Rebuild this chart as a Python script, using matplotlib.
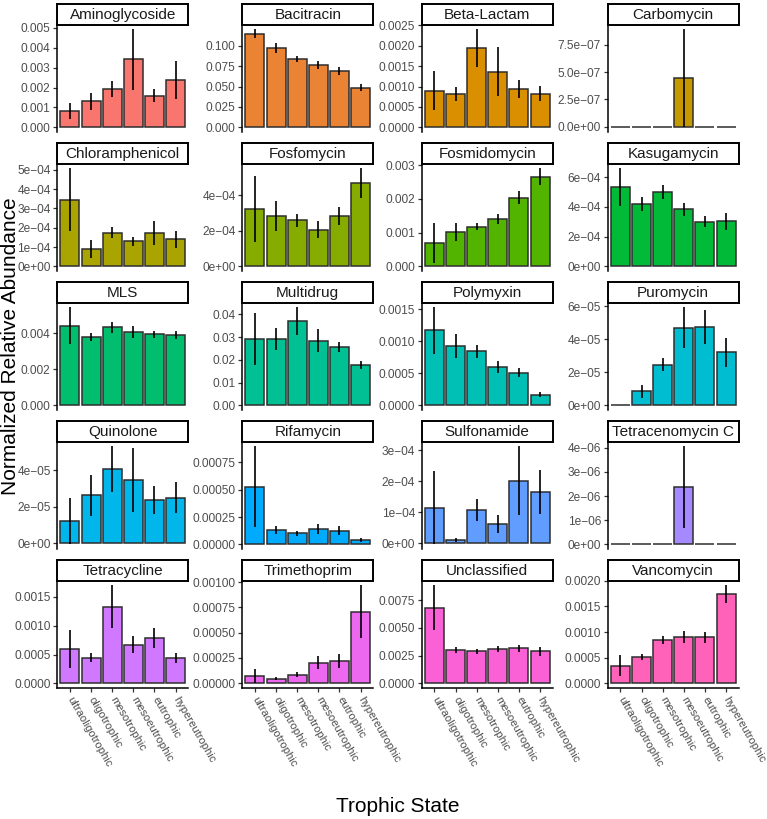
import numpy as np
import matplotlib
matplotlib.use("Agg")
import matplotlib.pyplot as plt

plt.rcParams['font.family'] = ['Liberation Sans', 'DejaVu Sans']

states = ["ultraoligotrophic", "oligotrophic", "mesotrophic",
          "mesoeutrophic", "eutrophic", "hypereutrophic"]

# mean and standard error per trophic state
aminoglycoside = [0.00080, 0.00131, 0.00193, 0.00341, 0.00160, 0.00238]
aminoglycoside_se = [0.00040, 0.00044, 0.00040, 0.00151, 0.00033, 0.00096]
bacitracin = [0.1148, 0.0976, 0.0840, 0.0760, 0.0692, 0.0484]
bacitracin_se = [0.0052, 0.0060, 0.0040, 0.0048, 0.0048, 0.0044]
beta_lactam = [0.00090, 0.00081, 0.00194, 0.00136, 0.00094, 0.00083]
beta_lactam_se = [0.00048, 0.00017, 0.00046, 0.00060, 0.00022, 0.00019]
carbomycin = [0, 0, 0, 4.42e-7, 0, 0]
carbomycin_se = [0, 0, 0, 4.47e-7, 0, 0]
chloramphenicol = [3.45e-4, 0.90e-4, 1.75e-4, 1.30e-4, 1.73e-4, 1.40e-4]
chloramphenicol_se = [1.62e-4, 0.45e-4, 0.30e-4, 0.22e-4, 0.60e-4, 0.45e-4]
fosfomycin = [3.23e-4, 2.83e-4, 2.59e-4, 2.07e-4, 2.84e-4, 4.70e-4]
fosfomycin_se = [1.87e-4, 0.86e-4, 0.36e-4, 0.46e-4, 0.52e-4, 0.82e-4]
fosmidomycin = [0.00070, 0.00102, 0.00118, 0.00139, 0.00203, 0.00266]
fosmidomycin_se = [0.00059, 0.00026, 0.00011, 0.00015, 0.00019, 0.00024]
kasugamycin = [5.34e-4, 4.21e-4, 5.00e-4, 3.84e-4, 3.01e-4, 3.03e-4]
kasugamycin_se = [1.25e-4, 0.46e-4, 0.45e-4, 0.43e-4, 0.39e-4, 0.59e-4]
mls = [0.00444, 0.00380, 0.00435, 0.00409, 0.00395, 0.00393]
mls_se = [0.00101, 0.00024, 0.00030, 0.00035, 0.00020, 0.00022]
multidrug = [0.0292, 0.0292, 0.0371, 0.0285, 0.0256, 0.0177]
multidrug_se = [0.0114, 0.0049, 0.0060, 0.0049, 0.0023, 0.0017]
polymyxin = [0.00117, 0.00093, 0.000845, 0.00060, 0.00051, 0.000165]
polymyxin_se = [0.00036, 0.00019, 0.00010, 0.00009, 0.00007, 0.00004]
puromycin = [0, 0.85e-5, 2.46e-5, 4.68e-5, 4.74e-5, 3.20e-5]
puromycin_se = [0, 0.39e-5, 0.40e-5, 1.24e-5, 1.02e-5, 0.90e-5]
quinolone = [1.20e-5, 2.62e-5, 4.05e-5, 3.47e-5, 2.37e-5, 2.50e-5]
quinolone_se = [1.26e-5, 1.15e-5, 1.26e-5, 1.77e-5, 0.78e-5, 0.86e-5]
rifamycin = [5.26e-4, 1.31e-4, 1.02e-4, 1.43e-4, 1.25e-4, 0.39e-4]
rifamycin_se = [3.70e-4, 0.33e-4, 0.23e-4, 0.48e-4, 0.42e-4, 0.21e-4]
sulfonamide = [1.14e-4, 0.10e-4, 1.06e-4, 0.62e-4, 2.02e-4, 1.65e-4]
sulfonamide_se = [1.18e-4, 0.06e-4, 0.36e-4, 0.29e-4, 1.10e-4, 0.71e-4]
tetracenomycin = [0, 0, 0, 2.36e-6, 0, 0]
tetracenomycin_se = [0, 0, 0, 1.69e-6, 0, 0]
tetracycline = [0.000596, 0.000444, 0.00133, 0.000669, 0.000787, 0.000444]
tetracycline_se = [0.00033, 0.00008, 0.00037, 0.00015, 0.00018, 0.00009]
trimethoprim = [0.000067, 0.000042, 0.000083, 0.000202, 0.000221, 0.000708]
trimethoprim_se = [0.00007, 0.000016, 0.000022, 0.000064, 0.00007, 0.00026]
unclassified = [0.00683, 0.00302, 0.00291, 0.00308, 0.00317, 0.00291]
unclassified_se = [0.0020, 0.0003, 0.00023, 0.00026, 0.0003, 0.0004]
vancomycin = [0.000346, 0.000519, 0.00084, 0.000904, 0.000897, 0.00174]
vancomycin_se = [0.0002, 0.00006, 0.00008, 0.00012, 0.0001, 0.00017]

# y tick labels of each panel, as printed
ticks_amino = ["0.000", "0.001", "0.002", "0.003", "0.004", "0.005"]
ticks_baci = ["0.000", "0.025", "0.050", "0.075", "0.100"]
ticks_beta = ["0.0000", "0.0005", "0.0010", "0.0015", "0.0020", "0.0025"]
ticks_carbo = ["0.0e+00", "2.5e−07", "5.0e−07", "7.5e−07"]
ticks_chlor = ["0e+00", "1e−04", "2e−04", "3e−04", "4e−04", "5e−04"]
ticks_fosfo = ["0e+00", "2e−04", "4e−04"]
ticks_fosmi = ["0.000", "0.001", "0.002", "0.003"]
ticks_kasu = ["0e+00", "2e−04", "4e−04", "6e−04"]
ticks_mls = ["0.000", "0.002", "0.004"]
ticks_multi = ["0.00", "0.01", "0.02", "0.03", "0.04"]
ticks_poly = ["0.0000", "0.0005", "0.0010", "0.0015"]
ticks_puro = ["0e+00", "2e−05", "4e−05", "6e−05"]
ticks_quino = ["0e+00", "2e−05", "4e−05"]
ticks_rifa = ["0.00000", "0.00025", "0.00050", "0.00075"]
ticks_sulfo = ["0e+00", "1e−04", "2e−04", "3e−04"]
ticks_tetrac = ["0e+00", "1e−06", "2e−06", "3e−06", "4e−06"]
ticks_tetra = ["0.0000", "0.0005", "0.0010", "0.0015"]
ticks_trime = ["0.00000", "0.00025", "0.00050", "0.00075", "0.00100"]
ticks_uncl = ["0.0000", "0.0025", "0.0050", "0.0075"]
ticks_vanco = ["0.0000", "0.0005", "0.0010", "0.0015", "0.0020"]

panels = [
    ("Aminoglycoside", aminoglycoside, aminoglycoside_se, ticks_amino),
    ("Bacitracin", bacitracin, bacitracin_se, ticks_baci),
    ("Beta-Lactam", beta_lactam, beta_lactam_se, ticks_beta),
    ("Carbomycin", carbomycin, carbomycin_se, ticks_carbo),
    ("Chloramphenicol", chloramphenicol, chloramphenicol_se, ticks_chlor),
    ("Fosfomycin", fosfomycin, fosfomycin_se, ticks_fosfo),
    ("Fosmidomycin", fosmidomycin, fosmidomycin_se, ticks_fosmi),
    ("Kasugamycin", kasugamycin, kasugamycin_se, ticks_kasu),
    ("MLS", mls, mls_se, ticks_mls),
    ("Multidrug", multidrug, multidrug_se, ticks_multi),
    ("Polymyxin", polymyxin, polymyxin_se, ticks_poly),
    ("Puromycin", puromycin, puromycin_se, ticks_puro),
    ("Quinolone", quinolone, quinolone_se, ticks_quino),
    ("Rifamycin", rifamycin, rifamycin_se, ticks_rifa),
    ("Sulfonamide", sulfonamide, sulfonamide_se, ticks_sulfo),
    ("Tetracenomycin C", tetracenomycin, tetracenomycin_se, ticks_tetrac),
    ("Tetracycline", tetracycline, tetracycline_se, ticks_tetra),
    ("Trimethoprim", trimethoprim, trimethoprim_se, ticks_trime),
    ("Unclassified", unclassified, unclassified_se, ticks_uncl),
    ("Vancomycin", vancomycin, vancomycin_se, ticks_vanco),
]


def hcl_hex(h, c=100, l=65):
    """ggplot-style hcl colour -> rgb tuple"""
    hr = np.deg2rad(h)
    u, v = c * np.cos(hr), c * np.sin(hr)
    Xn, Yn, Zn = 95.047, 100.0, 108.883
    d = Xn + 15 * Yn + 3 * Zn
    un, vn = 4 * Xn / d, 9 * Yn / d
    Y = Yn * ((l + 16) / 116) ** 3
    up, vp = u / (13 * l) + un, v / (13 * l) + vn
    X = Y * 9 * up / (4 * vp)
    Z = Y * (12 - 3 * up - 20 * vp) / (4 * vp)
    X, Y, Z = X / 100, Y / 100, Z / 100
    rgb = [3.240479 * X - 1.537150 * Y - 0.498535 * Z,
           -0.969256 * X + 1.875992 * Y + 0.041556 * Z,
           0.055648 * X - 0.204043 * Y + 1.057311 * Z]
    out = []
    for ch in rgb:
        ch = 1.055 * ch ** (1 / 2.4) - 0.055 if ch > 0.0031308 else 12.92 * ch
        out.append(min(max(ch, 0), 1))
    return tuple(out)


n_levels = 21
hues = np.linspace(15, 375, n_levels + 1)[:-1]
colors = [hcl_hex(h) for h in hues]

W, H = 767, 819
fig = plt.figure(figsize=(W / 100, H / 100), dpi=100)

col_left = [57.3, 242.3, 421.7, 607.7]
pw = 131.0
x = np.arange(len(states))

for i, (name, vals, se, tlabels) in enumerate(panels):
    r, c = divmod(i, 4)
    strip_top = 4 + 139 * r
    ptop = strip_top + 20.5
    pbot = 132.3 + 139 * r
    ax = fig.add_axes([col_left[c] / W, 1 - pbot / H, pw / W, (pbot - ptop) / H])
    vals = np.array(vals)
    se = np.array(se)
    ax.bar(x, vals, width=0.9, color=colors[i], edgecolor="#2e2e2e",
           linewidth=1.1, zorder=2)
    ax.errorbar(x, vals, yerr=se, fmt="none", ecolor="black",
                elinewidth=1.2, capsize=0, zorder=3)
    lo = min(0, (vals - se).min())
    hi = (vals + se).max()
    rng = hi - lo
    ax.set_ylim(lo - 0.05 * rng, hi + 0.05 * rng)
    ax.set_xlim(-0.6, len(states) - 0.4)
    ax.set_yticks([float(t.replace("−", "-")) for t in tlabels])
    ax.set_yticklabels(tlabels)
    for s in ["top", "right"]:
        ax.spines[s].set_visible(False)
    ax.spines["left"].set_linewidth(1.1)
    ax.spines["bottom"].set_linewidth(1.1)
    ax.tick_params(axis="both", direction="out", length=2.8, width=0.9,
                   color="#333333", labelsize=8.6, labelcolor="#4D4D4D", pad=2)
    if r == 4:
        ax.set_xticks(x)
        ax.set_xticklabels(states, rotation=-60, ha="left", va="center",
                           rotation_mode="anchor")
        ax.tick_params(axis="x", labelsize=8.0, pad=3.5)
    else:
        ax.spines["bottom"].set_visible(False)
        ax.set_xticks([])

    sax = fig.add_axes([col_left[c] / W, 1 - ptop / H, pw / W, (ptop - strip_top) / H])
    sax.set_xticks([])
    sax.set_yticks([])
    for s in sax.spines.values():
        s.set_linewidth(1.4)
        s.set_color("black")
    sax.text(0.5, 0.47, name, ha="center", va="center", fontsize=11,
             color="#1A1A1A", transform=sax.transAxes)

fig.text(10.5 / W, 1 - 346 / H, "Normalized Relative Abundance", rotation=90,
         ha="center", va="center", fontsize=15)
fig.text(397.5 / W, 1 - 806 / H, "Trophic State", ha="center", va="center",
         fontsize=15)

fig.savefig("out.png", dpi=100)
